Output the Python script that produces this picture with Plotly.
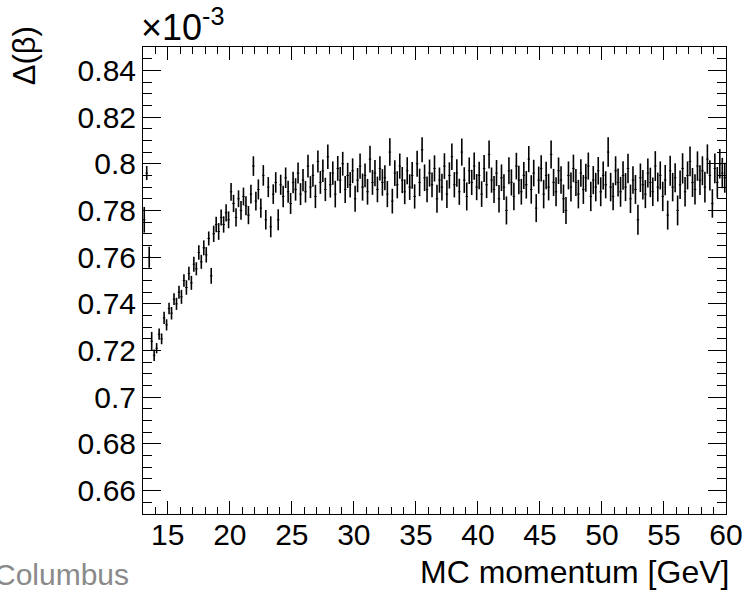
import plotly.graph_objects as go

# Profile histogram: Delta(beta) [x1e-3] vs MC momentum [GeV], bins of 0.2 GeV from 13.0 GeV
bin_start = 13.0
bin_width = 0.2

delta_beta = [
    0.776, 0.796, 0.760, 0.724,
    0.718, 0.721, 0.727, 0.725, 0.734, 0.731, 0.738, 0.736, 0.742, 0.740,
    0.745, 0.743, 0.750, 0.747, 0.753, 0.749, 0.757, 0.755, 0.762, 0.758,
    0.764, 0.761, 0.768, 0.752, 0.770, 0.774, 0.771, 0.777, 0.774, 0.779,
    0.776, 0.788, 0.783, 0.777, 0.785, 0.780, 0.786, 0.782, 0.778, 0.787,
    0.799, 0.784, 0.789, 0.781, 0.795, 0.776, 0.790, 0.773, 0.787, 0.792,
    0.776, 0.791, 0.786, 0.794, 0.788, 0.783, 0.792, 0.789, 0.796, 0.787,
    0.793, 0.788, 0.799, 0.790, 0.795, 0.786, 0.801, 0.792, 0.797, 0.789,
    0.803, 0.791, 0.796, 0.787, 0.798, 0.793, 0.800, 0.789, 0.795, 0.791,
    0.797, 0.785, 0.793, 0.799, 0.790, 0.795, 0.788, 0.802, 0.792, 0.796,
    0.789, 0.798, 0.792, 0.794, 0.787, 0.805, 0.784, 0.796, 0.791, 0.799,
    0.793, 0.788, 0.797, 0.790, 0.795, 0.786, 0.800, 0.792, 0.806, 0.794,
    0.789, 0.796, 0.791, 0.798, 0.785, 0.793, 0.790, 0.799, 0.787, 0.795,
    0.803, 0.791, 0.796, 0.788, 0.805, 0.793, 0.786, 0.797, 0.792, 0.799,
    0.790, 0.795, 0.787, 0.798, 0.791, 0.804, 0.793, 0.789, 0.796, 0.785,
    0.794, 0.790, 0.780, 0.797, 0.792, 0.786, 0.799, 0.793, 0.788, 0.795,
    0.791, 0.802, 0.789, 0.796, 0.781, 0.793, 0.798, 0.787, 0.795, 0.790,
    0.804, 0.792, 0.788, 0.797, 0.793, 0.785, 0.780, 0.795, 0.790, 0.798,
    0.792, 0.787, 0.796, 0.789, 0.794, 0.799, 0.786, 0.793, 0.790, 0.797,
    0.788, 0.795, 0.791, 0.805, 0.790, 0.786, 0.797, 0.792, 0.788, 0.795,
    0.790, 0.798, 0.785, 0.793, 0.789, 0.776, 0.794, 0.791, 0.787, 0.796,
    0.792, 0.788, 0.799, 0.790, 0.795, 0.786, 0.793, 0.778, 0.797, 0.790,
    0.794, 0.780, 0.791, 0.798, 0.788, 0.795, 0.801, 0.792, 0.789, 0.799,
    0.793, 0.797, 0.790, 0.802, 0.795, 0.783, 0.798, 0.792, 0.800, 0.796, 0.794,
]

delta_beta_err = [
    0.0055, 0.0030, 0.0045, 0.0040,
    0.0025, 0.0022, 0.0024, 0.0023, 0.0026, 0.0024, 0.0025, 0.0027, 0.0025, 0.0026,
    0.0028, 0.0030, 0.0027, 0.0031, 0.0029, 0.0030, 0.0032, 0.0028, 0.0031, 0.0030,
    0.0032, 0.0033, 0.0030, 0.0034, 0.0035, 0.0033, 0.0036, 0.0034, 0.0035, 0.0037,
    0.0036, 0.0038, 0.0037, 0.0039, 0.0036, 0.0040, 0.0038, 0.0041, 0.0039, 0.0040,
    0.0042, 0.0040, 0.0043, 0.0041, 0.0044, 0.0042, 0.0043, 0.0045, 0.0042, 0.0044,
    0.0045, 0.0043, 0.0046, 0.0044, 0.0047, 0.0045, 0.0046, 0.0048, 0.0045, 0.0047,
    0.0048, 0.0046, 0.0049, 0.0047, 0.0048, 0.0050, 0.0047, 0.0049, 0.0048, 0.0050,
    0.0052, 0.0055, 0.0050, 0.0057, 0.0053, 0.0056, 0.0051, 0.0058, 0.0054, 0.0055,
    0.0053, 0.0056, 0.0052, 0.0054, 0.0058, 0.0051, 0.0055, 0.0057, 0.0053, 0.0056,
    0.0055, 0.0052, 0.0057, 0.0054, 0.0056, 0.0059, 0.0053, 0.0055, 0.0058, 0.0054,
    0.0056, 0.0053, 0.0058, 0.0055, 0.0057, 0.0052, 0.0056, 0.0059, 0.0054, 0.0057,
    0.0055, 0.0058, 0.0053, 0.0056, 0.0060, 0.0054, 0.0057, 0.0055, 0.0059, 0.0056,
    0.0057, 0.0054, 0.0059, 0.0056, 0.0058, 0.0055, 0.0060, 0.0057, 0.0054, 0.0058,
    0.0056, 0.0059, 0.0055, 0.0058, 0.0057, 0.0060, 0.0054, 0.0058, 0.0056, 0.0059,
    0.0057, 0.0055, 0.0060, 0.0058, 0.0056, 0.0059, 0.0057, 0.0061, 0.0055, 0.0058,
    0.0059, 0.0056, 0.0061, 0.0057, 0.0060, 0.0058, 0.0056, 0.0061, 0.0059, 0.0057,
    0.0060, 0.0058, 0.0062, 0.0057, 0.0059, 0.0061, 0.0058, 0.0060, 0.0062, 0.0059,
    0.0058, 0.0061, 0.0059, 0.0062, 0.0060, 0.0058, 0.0063, 0.0060, 0.0061, 0.0059,
    0.0062, 0.0060, 0.0058, 0.0063, 0.0061, 0.0059, 0.0062, 0.0060, 0.0064, 0.0061,
    0.0060, 0.0063, 0.0061, 0.0059, 0.0062, 0.0064, 0.0061, 0.0063, 0.0060, 0.0062,
    0.0063, 0.0061, 0.0064, 0.0062, 0.0060, 0.0063, 0.0065, 0.0062, 0.0064, 0.0061,
    0.0062, 0.0064, 0.0061, 0.0065, 0.0063, 0.0060, 0.0064, 0.0062, 0.0065, 0.0063,
    0.0064, 0.0062, 0.0066, 0.0063, 0.0065, 0.0061, 0.0064, 0.0066, 0.0063, 0.0065, 0.0064,
]

momentum = [round(bin_start + bin_width * (i + 0.5), 2) for i in range(len(delta_beta))]

x_tick_vals = [15, 20, 25, 30, 35, 40, 45, 50, 55, 60]
x_tick_text = ["15", "20", "25", "30", "35", "40", "45", "50", "55", "60"]
y_tick_vals = [0.66, 0.68, 0.70, 0.72, 0.74, 0.76, 0.78, 0.80, 0.82, 0.84]
y_tick_text = ["0.66", "0.68", "0.7", "0.72", "0.74", "0.76", "0.78", "0.8", "0.82", "0.84"]

FONT = "Liberation Sans, Arial, Helvetica, sans-serif"

fig = go.Figure()
fig.add_trace(go.Scatter(
    x=momentum, y=delta_beta, mode="markers",
    marker=dict(size=1, color="black"),
    error_y=dict(type="data", array=delta_beta_err, thickness=1.6, width=0, color="black"),
    error_x=dict(type="constant", value=bin_width / 2, thickness=1, width=0, color="black"),
    showlegend=False, cliponaxis=True,
))

L, R, T, B = 143, 25, 47, 78
W, H = 755, 592
pw = W - L - R
ph = H - T - B

fig.update_layout(
    width=W, height=H,
    margin=dict(l=L, r=R, t=T, b=B, pad=0),
    paper_bgcolor="white", plot_bgcolor="white",
    font=dict(family=FONT, color="black", size=29),
    xaxis=dict(
        range=[13, 60], tickmode="array", tickvals=x_tick_vals, ticktext=x_tick_text,
        ticks="inside", ticklen=13, tickwidth=1, tickcolor="black",
        minor=dict(dtick=1, ticks="inside", ticklen=7, tickwidth=1, tickcolor="black"),
        showline=True, linecolor="black", linewidth=1, mirror="allticks",
        showgrid=False, zeroline=False, tickfont=dict(size=30),
        ticklabelstandoff=-6,
    ),
    yaxis=dict(
        range=[0.65, 0.85], tickmode="array", tickvals=y_tick_vals, ticktext=y_tick_text,
        ticks="inside", ticklen=18, tickwidth=1, tickcolor="black",
        minor=dict(dtick=0.005, tick0=0.65, ticks="inside", ticklen=9, tickwidth=1, tickcolor="black"),
        showline=True, linecolor="black", linewidth=1, mirror="allticks",
        showgrid=False, zeroline=False, tickfont=dict(size=30),
    ),
    annotations=[
        dict(text="MC momentum [GeV]", xref="paper", yref="paper",
             x=(735 - L) / pw, y=-(572 - T - ph) / ph, xanchor="right", yanchor="middle",
             showarrow=False, font=dict(size=32, family=FONT)),
        dict(text="Δ(β)", xref="paper", yref="paper", textangle=-90,
             x=(24 - L) / pw, y=1 + (T - 24) / ph, xanchor="center", yanchor="top",
             showarrow=False, font=dict(size=31, family=FONT)),
        dict(text="×10<sup>-3</sup>", xref="paper", yref="paper",
             x=(139 - L) / pw, y=1 + (T - 0) / ph, xanchor="left", yanchor="top",
             showarrow=False, font=dict(size=36, family=FONT)),
        dict(text="Columbus", xref="paper", yref="paper",
             x=(131 - L) / pw, y=-(574 - T - ph) / ph, xanchor="right", yanchor="middle",
             showarrow=False, font=dict(size=30, family=FONT, color="#8a8a8a")),
    ],
)

fig.write_html("out.html")
